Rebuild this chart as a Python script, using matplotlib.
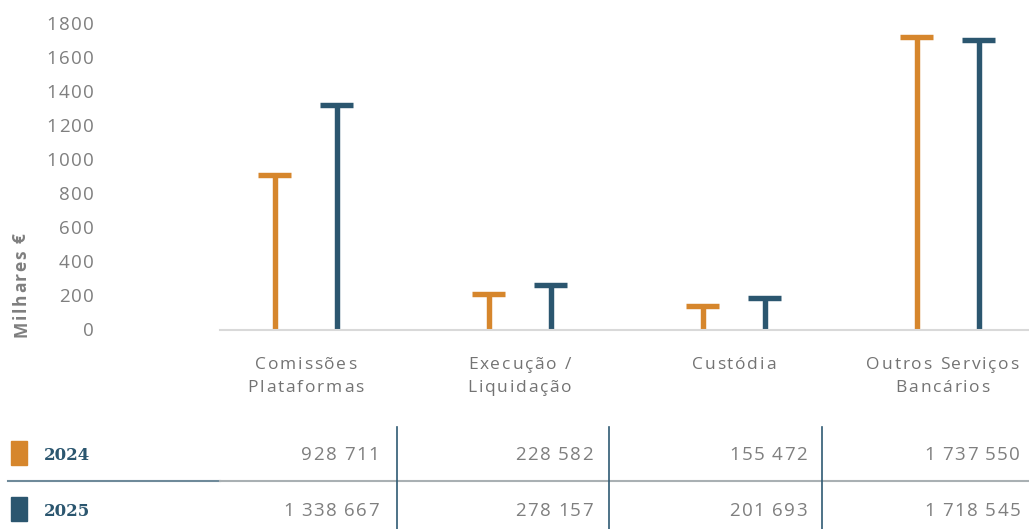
import matplotlib
matplotlib.use("Agg")
import matplotlib.pyplot as plt
from matplotlib.lines import Line2D
from matplotlib.patches import Rectangle
from matplotlib.font_manager import FontProperties, findfont
from matplotlib import ft2font

categories = ["Comissões\nPlataformas", "Execução /\nLiquidação", "Custódia", "Outros Serviços\nBancários"]
series_names = ["2024", "2025"]
values_2024 = [928711, 228582, 155472, 1737550]
values_2025 = [1338667, 278157, 201693, 1718545]
yticks = [0, 200, 400, 600, 800, 1000, 1200, 1400, 1600, 1800]
ylabel = "Milhares €"

ORANGE = "#D6862C"
BLUE = "#2B566F"
GRAY_TXT = "#7f7f7f"

W, H = 1029, 529
DPI = 100
plt.rcParams['font.family'] = ['Open Sans', 'DejaVu Sans']
fig = plt.figure(figsize=(W / DPI, H / DPI), dpi=DPI)

try:
    FLAGS = ft2font.LoadFlags.NO_HINTING
except AttributeError:
    FLAGS = ft2font.LOAD_NO_HINTING


def fx(px):
    return px / W


def fy(py):
    return 1 - py / H


def advances(fp, s):
    font = ft2font.FT2Font(findfont(fp))
    font.set_size(fp.get_size_in_points(), DPI)
    return [font.load_char(ord(ch), flags=FLAGS).linearHoriAdvance / 65536.0 for ch in s]


def spaced_text(x_px, y_px, s, size, spacing, color, weight="normal", vertical=False,
                ha="center", family=None):
    """Letter-spaced text anchored at (x_px, y_px); y_px (or x_px if vertical) is the baseline."""
    fp = FontProperties(family=family or ['Open Sans', 'DejaVu Sans'], size=size, weight=weight)
    adv = advances(fp, s)
    total = sum(adv) + spacing * (len(s) - 1)
    pen = {"center": -total / 2, "right": -total, "left": 0}[ha]
    for ch, a in zip(s, adv):
        if ch != " ":
            if not vertical:
                fig.text(fx(x_px + pen), fy(y_px), ch, fontproperties=fp, color=color,
                         ha="left", va="baseline")
            else:
                fig.text(fx(x_px), fy(y_px - pen), ch, fontproperties=fp, color=color,
                         ha="left", va="baseline", rotation=90, rotation_mode="anchor")
        pen += a + spacing


# axes: left edge at x=220, right at 1029, baseline y=330, 1800 at y=24
ax = fig.add_axes([fx(220), fy(330), fx(1029 - 220), (330 - 24) / H])
ax.set_xlim(-0.40, 3.38)
ax.set_ylim(0, 1800)
for s in ["top", "right", "left"]:
    ax.spines[s].set_visible(False)
ax.spines["bottom"].set_color("#d9d9d9")
ax.spines["bottom"].set_linewidth(1.5)
ax.set_xticks([])
ax.set_yticks([])
ax.patch.set_alpha(0)

# y tick labels (letter-spaced, right aligned at x=93)
for t in yticks:
    ty = H - ax.transData.transform((0, t))[1]
    spaced_text(93.5, ty + 6.5, str(t), 13.5, 1.3, GRAY_TXT, ha="right")

off = 0.145
cap_half = 0.076
lw = 3.9
cap_shift = 15
for i, (a, b) in enumerate(zip(values_2024, values_2025)):
    for x, v, c in ((i - off, a / 1000, ORANGE), (i + off, b / 1000, BLUE)):
        ax.vlines(x, 0, v - cap_shift, color=c, linewidth=lw, clip_on=False)
        ax.hlines(v - cap_shift, x - cap_half, x + cap_half, color=c, linewidth=lw, clip_on=False)

# category labels (letter-spaced)
for i, lab in enumerate(categories):
    cx = ax.transData.transform((i, 0))[0]
    if i == len(categories) - 1:
        cx -= 5
    for j, line in enumerate(lab.split("\n")):
        spaced_text(cx, 369 + j * 22.5, line, 12.5, 1.8, "#737373")

# y axis label (rotated, letter-spaced)
spaced_text(26, 285, ylabel, 12.5, 1.5, GRAY_TXT, weight="bold", vertical=True)

# table
rows_y = [453, 509]
cols_x = [379, 593, 807, 1020]
colors = [ORANGE, BLUE]
for r, (name, vals, c) in enumerate(zip(series_names, [values_2024, values_2025], colors)):
    y = rows_y[r]
    fig.patches.append(Rectangle((fx(11), fy(y + 12)), fx(16), 24 / H,
                                 transform=fig.transFigure, color=c))
    fig.text(fx(44), fy(y + 6.5), name, ha="left", va="baseline", fontsize=12,
             fontweight="bold", color=BLUE, family=["DejaVu Serif"])
    for xc, v in zip(cols_x, vals):
        txt = f"{v:,}".replace(",", " ")
        spaced_text(xc, y + 6.5, txt, 13.5, 1.4, GRAY_TXT, ha="right")

fig.lines.append(Line2D([fx(8), fx(220)], [fy(481), fy(481)], transform=fig.transFigure,
                        color="#6f8a9a", linewidth=1.5))
fig.lines.append(Line2D([fx(220), fx(1029)], [fy(481), fy(481)], transform=fig.transFigure,
                        color="#a9b0b3", linewidth=1.5))
for vx in [397, 609, 822]:
    fig.lines.append(Line2D([fx(vx), fx(vx)], [fy(427), fy(529)], transform=fig.transFigure,
                            color="#2f5a73", linewidth=1.2))

fig.savefig("out.png", dpi=DPI)
